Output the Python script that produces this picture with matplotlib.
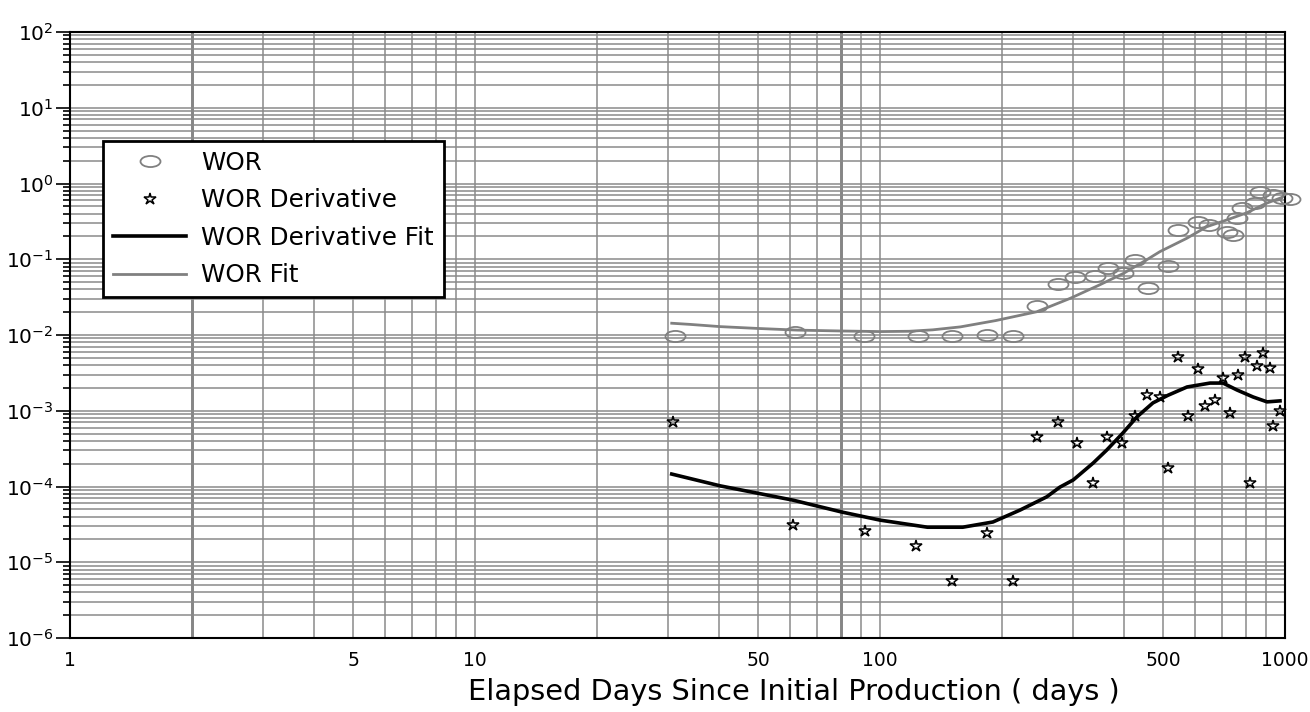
import numpy as np
import matplotlib.pyplot as plt
from matplotlib.markers import MarkerStyle
from matplotlib.transforms import Affine2D
from matplotlib.ticker import LogLocator, FixedLocator, NullFormatter

# WOR points (days, value)
wor_days = [31.2, 61.7, 91.3, 124, 151, 184, 213, 244, 275, 303, 340, 365, 398, 426,
            459, 514, 544, 610, 649, 719, 744, 761, 783, 844, 868, 934, 984, 1028]
wor_vals = [0.0097, 0.011, 0.0098, 0.0097, 0.0098, 0.0099, 0.0097, 0.024, 0.047, 0.058,
            0.061, 0.077, 0.066, 0.098, 0.042, 0.081, 0.243, 0.31, 0.28, 0.23, 0.21,
            0.35, 0.475, 0.55, 0.77, 0.70, 0.64, 0.63]

# WOR derivative points
deriv_days = [30.8, 61, 91.8, 123, 151, 184, 213, 244, 275, 306, 336, 363, 396, 426,
              456, 491, 514, 544, 576, 610, 634, 671, 703, 731, 765, 797, 820, 853,
              883, 918, 934, 972]
deriv_vals = [7.1e-4, 3.1e-5, 2.6e-5, 1.64e-5, 5.65e-6, 2.4e-5, 5.6e-6, 4.5e-4, 7.1e-4,
              3.75e-4, 1.11e-4, 4.5e-4, 3.75e-4, 8.5e-4, 1.6e-3, 1.5e-3, 1.75e-4, 5.1e-3,
              8.5e-4, 3.56e-3, 1.16e-3, 1.39e-3, 2.7e-3, 9.3e-4, 2.96e-3, 5.1e-3, 1.11e-4,
              3.9e-3, 5.8e-3, 3.7e-3, 6.3e-4, 9.9e-4]

# fitted curves
wor_fit_days = [30.6, 34, 40.3, 50, 62.5, 80, 100, 118, 135, 158, 193, 244, 295, 348,
                399, 455, 491, 572, 641, 718, 804, 901, 972]
wor_fit_vals = [0.0143, 0.0138, 0.0129, 0.0122, 0.0116, 0.0113, 0.0111, 0.0112, 0.0117,
                0.0128, 0.0155, 0.0203, 0.0305, 0.0457, 0.065, 0.098, 0.126, 0.189,
                0.269, 0.33, 0.41, 0.55, 0.64]

dfit_days = [30.6, 40.3, 61, 80.5, 100, 131, 160, 190, 222, 258, 278, 300, 336, 363,
             398, 431, 472, 514, 573, 653, 703, 761, 834, 903, 972]
dfit_vals = [1.46e-4, 1.02e-4, 6.6e-5, 4.6e-5, 3.6e-5, 2.9e-5, 2.9e-5, 3.4e-5, 4.9e-5,
             7.3e-5, 9.8e-5, 1.22e-4, 2.04e-4, 3.03e-4, 5.1e-4, 8.3e-4, 1.27e-3, 1.6e-3,
             2.06e-3, 2.32e-3, 2.32e-3, 1.88e-3, 1.52e-3, 1.31e-3, 1.35e-3]

xtick_vals = [1, 5, 10, 50, 100, 500, 1000]
ytick_vals = [1e-6, 1e-5, 1e-4, 1e-3, 1e-2, 1e-1, 1e0, 1e1, 1e2]

plt.rcParams['font.family'] = ['DejaVu Sans']
gridc = '#8a8a8a'

fig = plt.figure(figsize=(13.1, 7.12), dpi=100)
ax = fig.add_axes([70/1310, 1-638/712, 1215/1310, 606/712])
ax.set_xscale('log')
ax.set_yscale('log')
ax.set_xlim(1, 1000)
ax.set_ylim(1e-6, 1e2)

# grid
ax.xaxis.set_major_locator(FixedLocator(xtick_vals))
ax.xaxis.set_minor_locator(LogLocator(base=10, subs=np.arange(1, 10)))
ax.xaxis.set_minor_formatter(NullFormatter())
ax.set_xticklabels([str(v) for v in xtick_vals])
ax.yaxis.set_major_locator(FixedLocator(ytick_vals))
ax.yaxis.set_minor_locator(LogLocator(base=10, subs=np.arange(2, 10), numticks=20))
ax.yaxis.set_minor_formatter(NullFormatter())
ax.set_yticklabels([r'$\mathregular{10^{%d}}$' % int(np.log10(v)) for v in ytick_vals])
ax.grid(True, which='both', color=gridc, lw=1.1)
ax.set_axisbelow(True)
for xv in [2, 80]:
    ax.axvline(xv, color='#7a7a7a', lw=2.0, zorder=0.5)

ax.tick_params(axis='x', which='both', length=0, labelsize=13.5, pad=9)
ax.tick_params(axis='y', which='major', length=10, width=1.2, labelsize=14.5,
               direction='out', pad=2)
ax.tick_params(axis='y', which='minor', length=5, width=1.2, direction='out')
for s in ax.spines.values():
    s.set_color('black')
    s.set_linewidth(1.5)

ell = MarkerStyle('o', fillstyle='none', transform=Affine2D().scale(1.8, 1.0))
ax.plot(wor_days, wor_vals, ls='none', marker=ell, ms=8, mec='#808080', mew=1.3,
        label='WOR', clip_on=False, zorder=3)
ax.plot(deriv_days, deriv_vals, ls='none', marker='*', ms=9, mfc='none', mec='black',
        mew=1.1, label='WOR Derivative', clip_on=False, zorder=4)
ax.plot(dfit_days, dfit_vals, color='black', lw=2.6, label='WOR Derivative Fit', zorder=5)
ax.plot(wor_fit_days, wor_fit_vals, color='#808080', lw=2.0, label='WOR Fit', zorder=5)

fig.text(794/1310, 1-692/712, 'Elapsed Days Since Initial Production ( days )',
         fontsize=20.7, ha='center', va='center')

leg = ax.legend(loc='upper left', bbox_to_anchor=(0.027, 0.820), borderaxespad=0,
                fontsize=17.7, frameon=True, fancybox=False, handlelength=3.0,
                labelspacing=0.55, handletextpad=0.6, borderpad=0.4)
leg.get_frame().set_edgecolor('black')
leg.get_frame().set_linewidth(2)
leg.get_frame().set_alpha(1)

fig.savefig('out.png', dpi=100)
